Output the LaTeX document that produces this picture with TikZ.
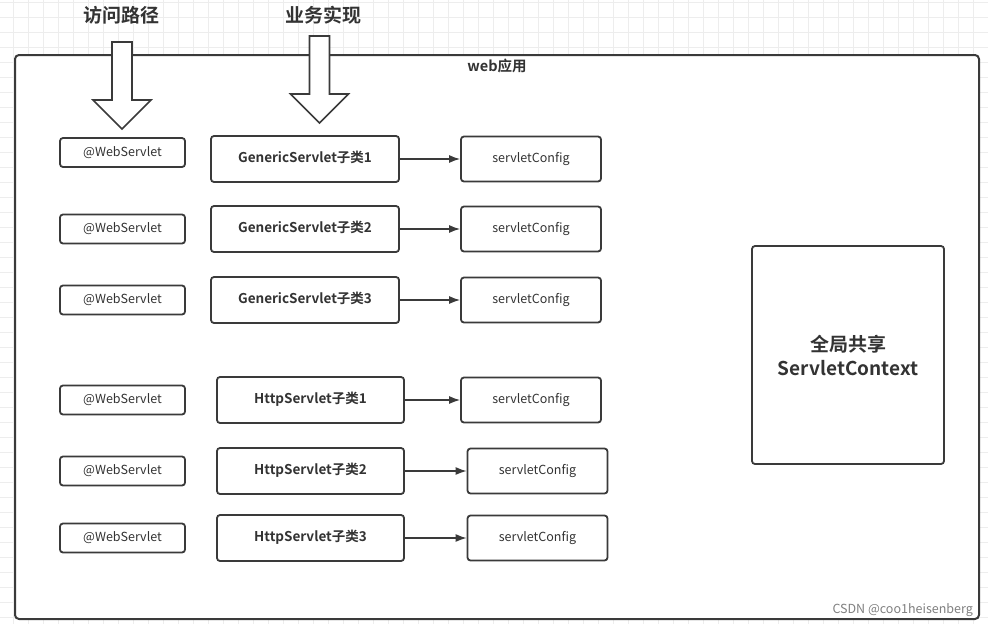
\documentclass[tikz,border=0pt]{standalone}
\usepackage{fontspec}
\setmainfont{Noto Sans CJK SC}[BoldFont={Noto Sans CJK SC Bold}]
\usetikzlibrary{arrows.meta,positioning}
\definecolor{linegray}{HTML}{3a3a3a}
\definecolor{textgray}{HTML}{333333}
\definecolor{gridgray}{HTML}{ededed}
\tikzset{
      base/.style = {draw=linegray, line width=1.8pt, rounded corners=3pt,
                     fill=white, inner sep=0pt, align=center, text=textgray},
       one/.style = {base, text height=0.72em, text depth=0pt},
      anno/.style = {one, minimum width=125pt, minimum height=29pt,
                     font=\fontsize{12.5}{15}\selectfont},
   servlet/.style = {one, minimum width=188pt, minimum height=46pt,
                     font=\bfseries\fontsize{13.5}{16}\selectfont},
    config/.style = {one, minimum width=140pt, minimum height=45pt,
                     font=\fontsize{12.5}{15}\selectfont},
     title/.style = {text=textgray, font=\bfseries\fontsize{19}{22}\selectfont},
       arr/.style = {-{Latex[length=11pt,width=8pt]}, line width=1.3pt, draw=linegray},
    hollow/.style = {draw=linegray, line width=1.6pt, fill=white, line join=miter},
}
\begin{document}
\begin{tikzpicture}[x=1pt,y=-1pt]
\useasboundingbox (0,0) rectangle (988,624);
% background grid
\foreach \k in {0,...,65} \draw[gridgray, line width=1pt] ({13+15*\k},0) -- ({13+15*\k},624);
\foreach \k in {0,...,41} \draw[gridgray, line width=1pt] (0,{2+15*\k}) -- (988,{2+15*\k});
% web application frame
\node[base, line width=2pt, rounded corners=4pt, minimum width=964pt, minimum height=564pt] (web) at (497,337) {};
\node[text=textgray, font=\bfseries\fontsize{14.5}{17}\selectfont] (weblabel) at (497,66) {web应用};
% titles
\node[title] (t1) at (121,15) {访问路径};
\node[title] (t2) at (323,15) {业务实现};
\foreach \x/\top in {122/42, 319.5/36}
  \draw[hollow] ({\x-10},\top) -- ({\x-10},{\top+58}) -- ({\x-29},{\top+58}) -- (\x,{\top+87})
    -- ({\x+29},{\top+58}) -- ({\x+10},{\top+58}) -- ({\x+10},\top) -- cycle;
% rows
\foreach \i/\ya/\y in {1/152.5/159, 2/229/229, 3/300/300}
 {
  \node[anno] (w\i) at (122.5,\ya) {@WebServlet};
  \node[servlet] (s\i) at (305,\y) {GenericServlet子类\i};
  \node[config] (c\i) at (531,\y) {servletConfig};
  \draw[arr] (s\i) -- (c\i);
 }
\foreach \i/\y/\xc in {4/400/531, 5/471/537.5, 6/538/537.5}
 {
  \pgfmathtruncatemacro\n{\i-3}
  \node[anno] (w\i) at (122.5,\y) {@WebServlet};
  \node[servlet, minimum width=187pt] (s\i) at (310.5,\y) {HttpServlet子类\n};
  \node[config] (c\i) at (\xc,\y) {servletConfig};
  \draw[arr] (s\i) -- (c\i);
 }
% shared context
\node[base, minimum width=192pt, minimum height=218pt, font=\bfseries\fontsize{19}{24}\selectfont] (ctx) at (848,355) {全局共享\\ServletContext};
\node[anchor=east, text=gray, inner sep=0pt, font=\fontsize{12.5}{15}\selectfont] (mark) at (973,610) {CSDN @coo1heisenberg};
\end{tikzpicture}
\end{document}
